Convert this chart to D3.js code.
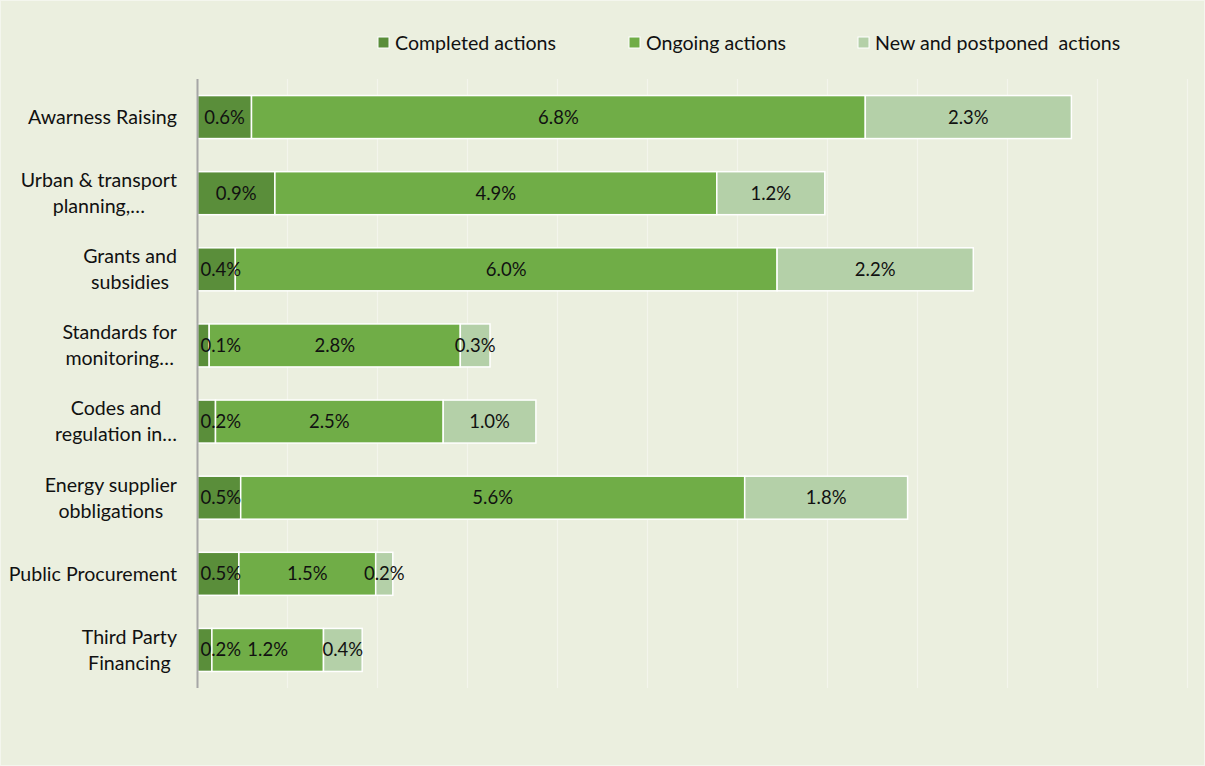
<!DOCTYPE html>
<html>
<head>
<meta charset="utf-8">
<script src="https://cdn.jsdelivr.net/npm/d3@7"></script>
<style>
  body { margin: 0; background: #fff; }
  text { font-family: Lato, "Open Sans", sans-serif; white-space: pre; }
</style>
</head>
<body>
<div id="chart"></div>
<script>
// categories (each line of a wrapped label)
var categories = [
  ["Awarness Raising"],
  ["Urban & transport", "planning,…"],
  ["Grants and", "subsidies"],
  ["Standards for", "monitoring…"],
  ["Codes and", "regulation in…"],
  ["Energy supplier", "obbligations"],
  ["Public Procurement"],
  ["Third Party", "Financing"]
];
var series = ["Completed actions", "Ongoing actions", "New and postponed  actions"];

// values in %
var completed = [0.6, 0.86, 0.42, 0.13, 0.2, 0.48, 0.46, 0.16];
var ongoing   = [6.82, 4.91, 6.02, 2.79, 2.53, 5.6, 1.52, 1.24];
var newPost   = [2.29, 1.2, 2.18, 0.33, 1.03, 1.81, 0.19, 0.43];

var xTicks = d3.range(0, 12, 1);

var W = 1205, H = 766;
var svg = d3.select("#chart").append("svg")
    .attr("width", W)
    .attr("height", H)

svg.append("rect")
    .attr("x", 0.5).attr("y", 0.5)
    .attr("width", W - 1).attr("height", H - 1)
    .style("fill", "#EBEFDF")
    .style("stroke", "#F4F6EE")

var plotLeft = 197.5, plotRight = 1187.5, plotTop = 79, plotBottom = 688;

var x = d3.scaleLinear().domain([0, 11]).range([plotLeft, plotRight])
var y = d3.scaleBand().domain(d3.range(categories.length)).range([plotTop, plotBottom]).paddingInner(0.435).paddingOuter(0.2175)

var color = d3.scaleOrdinal().domain(series).range(["#5A8E3A", "#70AD47", "#B4D0A8"])

// gridlines
svg.selectAll("grid")
    .data(xTicks.slice(1))
    .enter()
    .append("line")
    .attr("x1", function(d){ return x(d) })
    .attr("x2", function(d){ return x(d) })
    .attr("y1", plotTop)
    .attr("y2", plotBottom)
    .style("stroke", "#F3F5EC")
    .style("stroke-width", 1.2)

// stack the data
var rows = categories.map(function(c, i){
  return { i: i, "Completed actions": completed[i], "Ongoing actions": ongoing[i], "New and postponed  actions": newPost[i] }
});
var stacked = d3.stack().keys(series)(rows);

var layers = svg.selectAll("layer")
    .data(stacked)
    .enter()
    .append("g")
    .style("fill", function(d){ return color(d.key) })

layers.selectAll("rect")
    .data(function(d){ return d })
    .enter()
    .append("rect")
    .attr("x", function(d){ return x(d[0]) })
    .attr("y", function(d){ return y(d.data.i) })
    .attr("width", function(d){ return x(d[1]) - x(d[0]) })
    .attr("height", y.bandwidth())
    .style("stroke", "#fff")
    .style("stroke-width", 1.5)

// data labels
var fmt = d3.format(".1f");
var labels = svg.append("g")
labels.selectAll("text")
    .data(d3.merge(stacked))
    .enter()
    .append("text")
    .attr("y", function(d){ return y(d.data.i) + y.bandwidth() / 2 })
    .attr("dy", "0.35em")
    .attr("text-anchor", "middle")
    .style("fill", "#111")
    .style("font-size", "18.5px")
    .text(function(d){ return fmt(d[1] - d[0]) + "%" })
    .attr("x", function(d){
      var w = this.getComputedTextLength();
      var cx = (x(d[0]) + x(d[1])) / 2;
      return Math.max(cx, plotLeft + 3 + w / 2);
    })

// axis line
svg.append("line")
    .attr("x1", plotLeft).attr("x2", plotLeft)
    .attr("y1", plotTop).attr("y2", plotBottom)
    .style("stroke", "#A6A6A6")
    .style("stroke-width", 2)

// category labels: lines centred within a right-aligned block
var labelRight = 177;
categories.forEach(function(lines, i){
  var g = svg.append("g");
  var cy = y(i) + y.bandwidth() / 2;
  var lh = 26;
  var texts = lines.map(function(l, k){
    return g.append("text")
      .attr("y", cy + (k - (lines.length - 1) / 2) * lh)
      .attr("dy", "0.35em")
      .attr("text-anchor", "middle")
      .style("font-size", "19.6px")
      .style("fill", "#111")
      .text(l)
  });
  var maxW = d3.max(texts, function(t){ return t.node().getComputedTextLength() });
  texts.forEach(function(t){ t.attr("x", labelRight - maxW / 2) });
});

// legend
var legendX = [378, 629, 858];
var legend = svg.selectAll("legend")
    .data(series)
    .enter()
    .append("g")
    .attr("transform", function(d, i){ return "translate(" + legendX[i] + ",37)" })

legend.append("rect")
    .attr("width", 11)
    .attr("height", 11)
    .style("fill", function(d){ return color(d) })
    .style("stroke", "#fff")
    .style("stroke-width", 1)

legend.append("text")
    .attr("x", 17)
    .attr("y", 6)
    .attr("dy", "0.35em")
    .style("font-size", "19.6px")
    .style("fill", "#111")
    .text(function(d){ return d })
</script>
</body>
</html>
